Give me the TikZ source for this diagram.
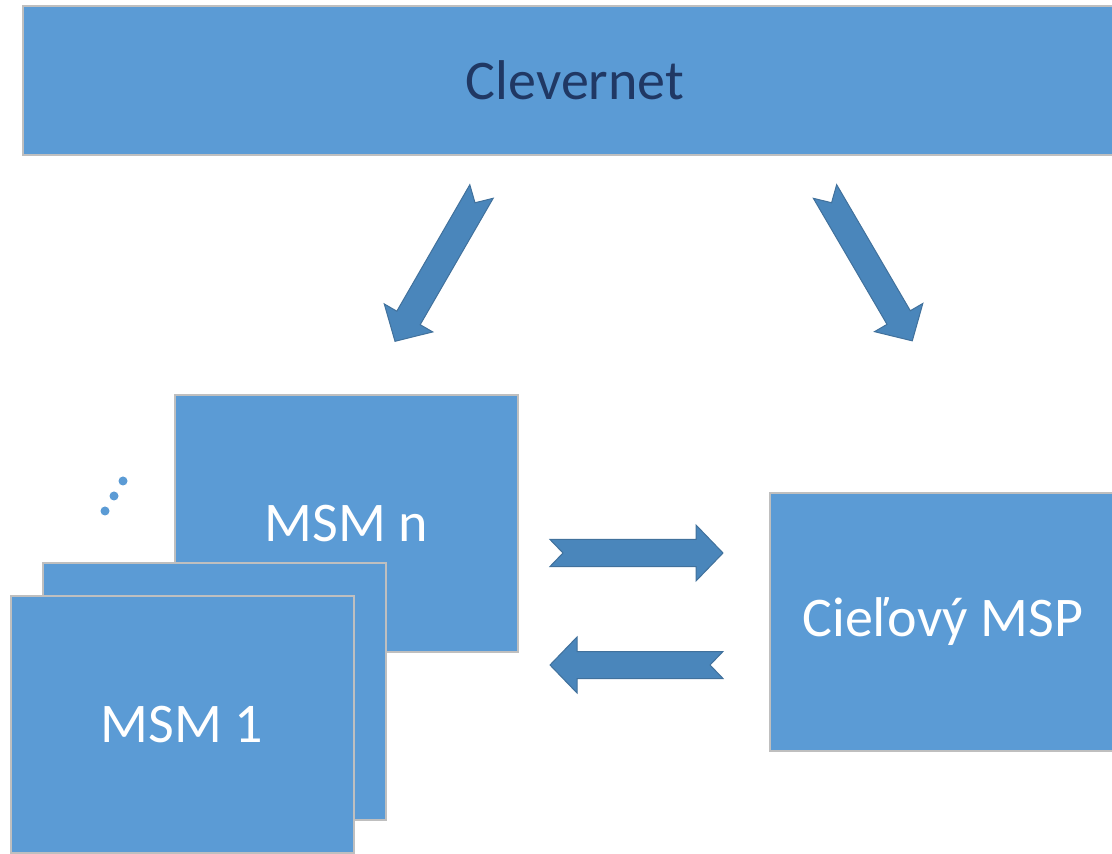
\documentclass[tikz,border=0pt]{standalone}
\usepackage{fontspec}
\setmainfont{Carlito}
\usepackage{tikz}
\definecolor{kutuMavi}{HTML}{5B9BD5}
\definecolor{kenarGri}{HTML}{BFBFBF}
\definecolor{okMavi}{HTML}{4A86BB}
\definecolor{okKenar}{HTML}{41719C}
\definecolor{baslikLaci}{HTML}{203864}
\begin{document}
\begin{tikzpicture}[x=0.5pt,y=-0.5pt,
  kutu/.style={draw=kenarGri,line width=1pt,fill=kutuMavi,inner sep=0pt,text=white,
    minimum width=171.5pt,minimum height=128.5pt,font=\fontsize{28}{33}\selectfont},
  pics/okBlok/.style={code={
    \filldraw[fill=okMavi,draw=okKenar,line width=0.5pt] (0,-13.5)--(146,-13.5)--(146,-28)--(173,0)--(146,28)--(146,13.5)--(0,13.5)--(13,0)--cycle;}}]
\useasboundingbox (0,0) rectangle (1112,854);
\clip (0,0) rectangle (1112,854);
% ust bant
\node[kutu,minimum width=552pt,minimum height=74.5pt,text=baslikLaci] (clevernet) at (575,80.5) {Clevernet};
% MSM yigini
\node[kutu] (msmn) at (346.5,523.5) {MSM n};
\node[kutu] (msmara) at (214,691.5) {};
\node[kutu] (msm1) at (182,724.5) {MSM 1};
\fill[kutuMavi] (123,481) circle (4.5) (114,496) circle (4.5) (105,511) circle (4.5);
% hedef
\node[kutu,minimum width=173pt,minimum height=129pt] (hedef) at (943,622) {Cieľový MSP};
% oklar
\coordinate (okSol) at (481.5,191.5);
\coordinate (okSag) at (825,191.5);
\coordinate (okIleri) at (550,553);
\coordinate (okGeri) at (723,665);
\pic[rotate=240] at (okSol) {okBlok};
\pic[rotate=-59.7] at (okSag) {okBlok};
\pic at (okIleri) {okBlok};
\pic[rotate=180] at (okGeri) {okBlok};
\end{tikzpicture}
\end{document}
